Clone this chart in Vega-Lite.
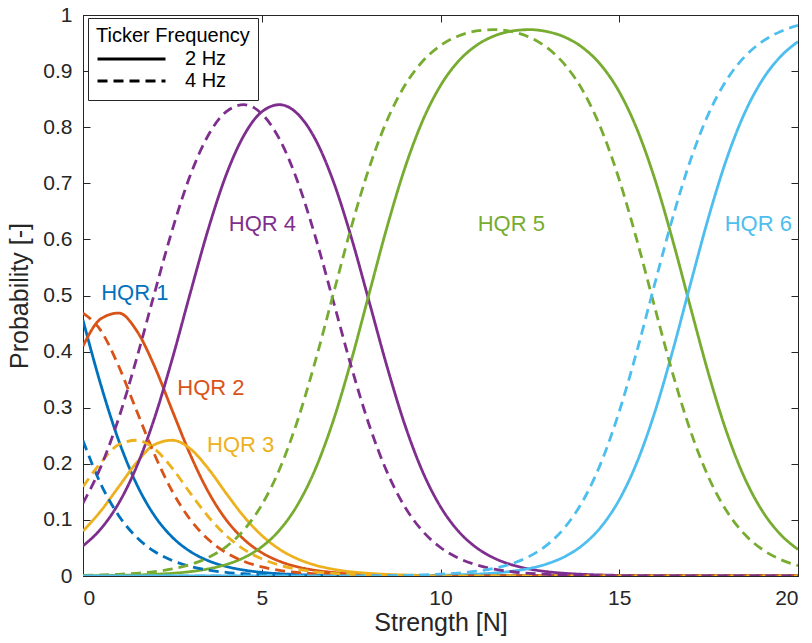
{
"$schema":"https://vega.github.io/schema/vega-lite/v6.json",
"width":715,"height":561,
"autosize":{"type":"none"},
"padding":{"left":83,"top":15,"right":14,"bottom":67},
"background":"white",
"config":{"font":"Liberation Sans","view":{"stroke":"#262626","strokeWidth":1},
 "axis":{"grid":false,"domainColor":"#262626","tickColor":"#262626","labelColor":"#262626","titleColor":"#262626","titleFontWeight":"normal","labelFontSize":21,"titleFontSize":25,"tickSize":-7,"domainWidth":1,"tickWidth":1,"labelFont":"Liberation Sans","titleFont":"Liberation Sans"}},
"datasets":{
"curves":[
{"x":0,"f":"2 Hz","h1":0.4561,"h2":0.4098,"h3":0.0800,"h4":0.0537,"h5":0.0004,"h6":0},
{"x":0.5,"f":"2 Hz","h1":0.3405,"h2":0.4585,"h3":0.1161,"h4":0.0842,"h5":0.0007,"h6":0},
{"x":1,"f":"2 Hz","h1":0.2412,"h2":0.4687,"h3":0.1591,"h4":0.1299,"h5":0.0011,"h6":0},
{"x":1.5,"f":"2 Hz","h1":0.1637,"h2":0.4374,"h3":0.2022,"h4":0.1949,"h5":0.0018,"h6":0},
{"x":2,"f":"2 Hz","h1":0.1075,"h2":0.3738,"h3":0.2342,"h4":0.2815,"h5":0.0030,"h6":0},
{"x":2.5,"f":"2 Hz","h1":0.0691,"h2":0.2944,"h3":0.2420,"h4":0.3877,"h5":0.0048,"h6":0},
{"x":3,"f":"2 Hz","h1":0.0437,"h2":0.2165,"h3":0.2268,"h4":0.5042,"h5":0.0078,"h6":0},
{"x":3.5,"f":"2 Hz","h1":0.0274,"h2":0.1506,"h3":0.1918,"h4":0.6175,"h5":0.0127,"h6":0},
{"x":4,"f":"2 Hz","h1":0.0170,"h2":0.1006,"h3":0.1478,"h4":0.7142,"h5":0.0204,"h6":0},
{"x":4.5,"f":"2 Hz","h1":0.0106,"h2":0.0654,"h3":0.1061,"h4":0.7852,"h5":0.0327,"h6":0},
{"x":5,"f":"2 Hz","h1":0.0065,"h2":0.0416,"h3":0.0724,"h4":0.8274,"h5":0.0521,"h6":0},
{"x":5.5,"f":"2 Hz","h1":0.0040,"h2":0.0262,"h3":0.0476,"h4":0.8401,"h5":0.0820,"h6":0},
{"x":6,"f":"2 Hz","h1":0.0025,"h2":0.0163,"h3":0.0306,"h4":0.8239,"h5":0.1267,"h6":0},
{"x":6.5,"f":"2 Hz","h1":0.0015,"h2":0.0101,"h3":0.0193,"h4":0.7783,"h5":0.1907,"h6":0},
{"x":7,"f":"2 Hz","h1":0.0009,"h2":0.0063,"h3":0.0121,"h4":0.7038,"h5":0.2768,"h6":0.0001},
{"x":7.5,"f":"2 Hz","h1":0.0006,"h2":0.0039,"h3":0.0075,"h4":0.6046,"h5":0.3833,"h6":0.0001},
{"x":8,"f":"2 Hz","h1":0.0004,"h2":0.0024,"h3":0.0047,"h4":0.4901,"h5":0.5023,"h6":0.0002},
{"x":8.5,"f":"2 Hz","h1":0.0002,"h2":0.0015,"h3":0.0029,"h4":0.3742,"h5":0.6210,"h6":0.0003},
{"x":9,"f":"2 Hz","h1":0.0001,"h2":0.0009,"h3":0.0018,"h4":0.2701,"h5":0.7266,"h6":0.0005},
{"x":9.5,"f":"2 Hz","h1":0,"h2":0.0006,"h3":0.0011,"h4":0.1860,"h5":0.8115,"h6":0.0008},
{"x":10,"f":"2 Hz","h1":0,"h2":0.0004,"h3":0.0007,"h4":0.1235,"h5":0.8742,"h6":0.0012},
{"x":10.5,"f":"2 Hz","h1":0,"h2":0.0002,"h3":0.0004,"h4":0.0799,"h5":0.9175,"h6":0.0020},
{"x":11,"f":"2 Hz","h1":0,"h2":0.0001,"h3":0.0003,"h4":0.0508,"h5":0.9456,"h6":0.0032},
{"x":11.5,"f":"2 Hz","h1":0,"h2":0,"h3":0.0002,"h4":0.0319,"h5":0.9626,"h6":0.0053},
{"x":12,"f":"2 Hz","h1":0,"h2":0,"h3":0.0001,"h4":0.0199,"h5":0.9715,"h6":0.0085},
{"x":12.5,"f":"2 Hz","h1":0,"h2":0,"h3":0,"h4":0.0123,"h5":0.9739,"h6":0.0137},
{"x":13,"f":"2 Hz","h1":0,"h2":0,"h3":0,"h4":0.0076,"h5":0.9702,"h6":0.0221},
{"x":13.5,"f":"2 Hz","h1":0,"h2":0,"h3":0,"h4":0.0047,"h5":0.9599,"h6":0.0354},
{"x":14,"f":"2 Hz","h1":0,"h2":0,"h3":0,"h4":0.0029,"h5":0.9408,"h6":0.0563},
{"x":14.5,"f":"2 Hz","h1":0,"h2":0,"h3":0,"h4":0.0018,"h5":0.9099,"h6":0.0883},
{"x":15,"f":"2 Hz","h1":0,"h2":0,"h3":0,"h4":0.0011,"h5":0.8630,"h6":0.1359},
{"x":15.5,"f":"2 Hz","h1":0,"h2":0,"h3":0,"h4":0.0007,"h5":0.7959,"h6":0.2034},
{"x":16,"f":"2 Hz","h1":0,"h2":0,"h3":0,"h4":0.0004,"h5":0.7064,"h6":0.2932},
{"x":16.5,"f":"2 Hz","h1":0,"h2":0,"h3":0,"h4":0.0003,"h5":0.5972,"h6":0.4025},
{"x":17,"f":"2 Hz","h1":0,"h2":0,"h3":0,"h4":0.0002,"h5":0.4774,"h6":0.5225},
{"x":17.5,"f":"2 Hz","h1":0,"h2":0,"h3":0,"h4":0.0001,"h5":0.3600,"h6":0.6399},
{"x":18,"f":"2 Hz","h1":0,"h2":0,"h3":0,"h4":0,"h5":0.2572,"h6":0.7427},
{"x":18.5,"f":"2 Hz","h1":0,"h2":0,"h3":0,"h4":0,"h5":0.1758,"h6":0.8242},
{"x":19,"f":"2 Hz","h1":0,"h2":0,"h3":0,"h4":0,"h5":0.1161,"h6":0.8839},
{"x":19.5,"f":"2 Hz","h1":0,"h2":0,"h3":0,"h4":0,"h5":0.0748,"h6":0.9252},
{"x":20,"f":"2 Hz","h1":0,"h2":0,"h3":0,"h4":0,"h5":0.0474,"h6":0.9526},
{"x":0,"f":"4 Hz","h1":0.2412,"h2":0.4687,"h3":0.1591,"h4":0.1299,"h5":0.0011,"h6":0},
{"x":0.5,"f":"4 Hz","h1":0.1637,"h2":0.4374,"h3":0.2022,"h4":0.1949,"h5":0.0018,"h6":0},
{"x":1,"f":"4 Hz","h1":0.1075,"h2":0.3738,"h3":0.2342,"h4":0.2815,"h5":0.0030,"h6":0},
{"x":1.5,"f":"4 Hz","h1":0.0691,"h2":0.2944,"h3":0.2420,"h4":0.3877,"h5":0.0048,"h6":0},
{"x":2,"f":"4 Hz","h1":0.0437,"h2":0.2165,"h3":0.2268,"h4":0.5042,"h5":0.0078,"h6":0},
{"x":2.5,"f":"4 Hz","h1":0.0274,"h2":0.1506,"h3":0.1918,"h4":0.6175,"h5":0.0127,"h6":0},
{"x":3,"f":"4 Hz","h1":0.0170,"h2":0.1006,"h3":0.1478,"h4":0.7142,"h5":0.0204,"h6":0},
{"x":3.5,"f":"4 Hz","h1":0.0106,"h2":0.0654,"h3":0.1061,"h4":0.7852,"h5":0.0327,"h6":0},
{"x":4,"f":"4 Hz","h1":0.0065,"h2":0.0416,"h3":0.0724,"h4":0.8274,"h5":0.0521,"h6":0},
{"x":4.5,"f":"4 Hz","h1":0.0040,"h2":0.0262,"h3":0.0476,"h4":0.8401,"h5":0.0820,"h6":0},
{"x":5,"f":"4 Hz","h1":0.0025,"h2":0.0163,"h3":0.0306,"h4":0.8239,"h5":0.1267,"h6":0},
{"x":5.5,"f":"4 Hz","h1":0.0015,"h2":0.0101,"h3":0.0193,"h4":0.7783,"h5":0.1907,"h6":0},
{"x":6,"f":"4 Hz","h1":0.0009,"h2":0.0063,"h3":0.0121,"h4":0.7038,"h5":0.2768,"h6":0.0001},
{"x":6.5,"f":"4 Hz","h1":0.0006,"h2":0.0039,"h3":0.0075,"h4":0.6046,"h5":0.3833,"h6":0.0001},
{"x":7,"f":"4 Hz","h1":0.0004,"h2":0.0024,"h3":0.0047,"h4":0.4901,"h5":0.5023,"h6":0.0002},
{"x":7.5,"f":"4 Hz","h1":0.0002,"h2":0.0015,"h3":0.0029,"h4":0.3742,"h5":0.6210,"h6":0.0003},
{"x":8,"f":"4 Hz","h1":0.0001,"h2":0.0009,"h3":0.0018,"h4":0.2701,"h5":0.7266,"h6":0.0005},
{"x":8.5,"f":"4 Hz","h1":0,"h2":0.0006,"h3":0.0011,"h4":0.1860,"h5":0.8115,"h6":0.0008},
{"x":9,"f":"4 Hz","h1":0,"h2":0.0004,"h3":0.0007,"h4":0.1235,"h5":0.8742,"h6":0.0012},
{"x":9.5,"f":"4 Hz","h1":0,"h2":0.0002,"h3":0.0004,"h4":0.0799,"h5":0.9175,"h6":0.0020},
{"x":10,"f":"4 Hz","h1":0,"h2":0.0001,"h3":0.0003,"h4":0.0508,"h5":0.9456,"h6":0.0032},
{"x":10.5,"f":"4 Hz","h1":0,"h2":0,"h3":0.0002,"h4":0.0319,"h5":0.9626,"h6":0.0053},
{"x":11,"f":"4 Hz","h1":0,"h2":0,"h3":0.0001,"h4":0.0199,"h5":0.9715,"h6":0.0085},
{"x":11.5,"f":"4 Hz","h1":0,"h2":0,"h3":0,"h4":0.0123,"h5":0.9739,"h6":0.0137},
{"x":12,"f":"4 Hz","h1":0,"h2":0,"h3":0,"h4":0.0076,"h5":0.9702,"h6":0.0221},
{"x":12.5,"f":"4 Hz","h1":0,"h2":0,"h3":0,"h4":0.0047,"h5":0.9599,"h6":0.0354},
{"x":13,"f":"4 Hz","h1":0,"h2":0,"h3":0,"h4":0.0029,"h5":0.9408,"h6":0.0563},
{"x":13.5,"f":"4 Hz","h1":0,"h2":0,"h3":0,"h4":0.0018,"h5":0.9099,"h6":0.0883},
{"x":14,"f":"4 Hz","h1":0,"h2":0,"h3":0,"h4":0.0011,"h5":0.8630,"h6":0.1359},
{"x":14.5,"f":"4 Hz","h1":0,"h2":0,"h3":0,"h4":0.0007,"h5":0.7959,"h6":0.2034},
{"x":15,"f":"4 Hz","h1":0,"h2":0,"h3":0,"h4":0.0004,"h5":0.7064,"h6":0.2932},
{"x":15.5,"f":"4 Hz","h1":0,"h2":0,"h3":0,"h4":0.0003,"h5":0.5972,"h6":0.4025},
{"x":16,"f":"4 Hz","h1":0,"h2":0,"h3":0,"h4":0.0002,"h5":0.4774,"h6":0.5225},
{"x":16.5,"f":"4 Hz","h1":0,"h2":0,"h3":0,"h4":0.0001,"h5":0.3600,"h6":0.6399},
{"x":17,"f":"4 Hz","h1":0,"h2":0,"h3":0,"h4":0,"h5":0.2572,"h6":0.7427},
{"x":17.5,"f":"4 Hz","h1":0,"h2":0,"h3":0,"h4":0,"h5":0.1758,"h6":0.8242},
{"x":18,"f":"4 Hz","h1":0,"h2":0,"h3":0,"h4":0,"h5":0.1161,"h6":0.8839},
{"x":18.5,"f":"4 Hz","h1":0,"h2":0,"h3":0,"h4":0,"h5":0.0748,"h6":0.9252},
{"x":19,"f":"4 Hz","h1":0,"h2":0,"h3":0,"h4":0,"h5":0.0474,"h6":0.9526},
{"x":19.5,"f":"4 Hz","h1":0,"h2":0,"h3":0,"h4":0,"h5":0.0297,"h6":0.9703},
{"x":20,"f":"4 Hz","h1":0,"h2":0,"h3":0,"h4":0,"h5":0.0185,"h6":0.9815}
],
"labels":[
{"x":1.45,"y":0.504,"t":"HQR 1","h":"h1"},
{"x":3.58,"y":0.335,"t":"HQR 2","h":"h2"},
{"x":4.41,"y":0.234,"t":"HQR 3","h":"h3"},
{"x":5.02,"y":0.628,"t":"HQR 4","h":"h4"},
{"x":11.98,"y":0.628,"t":"HQR 5","h":"h5"},
{"x":18.89,"y":0.627,"t":"HQR 6","h":"h6"}
]},
"layer":[
{"data":{"name":"curves"},
 "transform":[{"fold":["h1","h2","h3","h4","h5","h6"],"as":["h","p"]}],
 "mark":{"type":"line","interpolate":"monotone","strokeWidth":2.8,"clip":true},
 "encoding":{
  "x":{"field":"x","type":"quantitative","scale":{"domain":[0,20],"nice":false,"zero":false},
       "axis":{"values":[0,5,10,15,20],"title":"Strength [N]","labelPadding":18,"titlePadding":2}},
  "y":{"field":"p","type":"quantitative","scale":{"domain":[0,1],"nice":false},
       "axis":{"values":[0,0.1,0.2,0.3,0.4,0.5,0.6,0.7,0.8,0.9,1],"format":"~g","title":"Probability [-]","labelPadding":18,"titlePadding":10}},
  "color":{"field":"h","type":"nominal","scale":{"domain":["h1","h2","h3","h4","h5","h6"],"range":["#0072BD","#D95319","#EDB120","#7E2F8E","#77AC30","#4DBEEE"]},"legend":null},
  "strokeDash":{"field":"f","type":"nominal","scale":{"domain":["2 Hz","4 Hz"],"range":[[1,0],[10,6]]},
       "legend":{"title":"Ticker Frequency","orient":"none","legendX":5,"legendY":3,"symbolType":"stroke","symbolSize":4624,"symbolStrokeWidth":3,"symbolStrokeColor":"#000000","clipHeight":22,"rowPadding":0,"strokeColor":"#262626","fillColor":"white","padding":8,"titleFontSize":20,"labelFontSize":20,"titleFontWeight":"normal","titleColor":"#000000","labelColor":"#000000","labelOffset":18,"titlePadding":2}}
 }},
{"data":{"name":"labels"},
 "mark":{"type":"text","fontSize":22,"align":"center","baseline":"middle"},
 "encoding":{
  "x":{"field":"x","type":"quantitative","axis":null},
  "y":{"field":"y","type":"quantitative","axis":null},
  "text":{"field":"t"},
  "color":{"field":"h","type":"nominal","legend":null}}},
{"data":{"name":"labels"},
 "mark":{"type":"point","opacity":0},
 "encoding":{
  "x":{"field":"x","type":"quantitative","axis":{"orient":"top","values":[0,5,10,15,20],"labels":false,"title":null}},
  "y":{"field":"y","type":"quantitative","axis":{"orient":"right","values":[0,0.1,0.2,0.3,0.4,0.5,0.6,0.7,0.8,0.9,1],"labels":false,"title":null}}}}
],
"resolve":{"axis":{"x":"independent","y":"independent"}}
}
